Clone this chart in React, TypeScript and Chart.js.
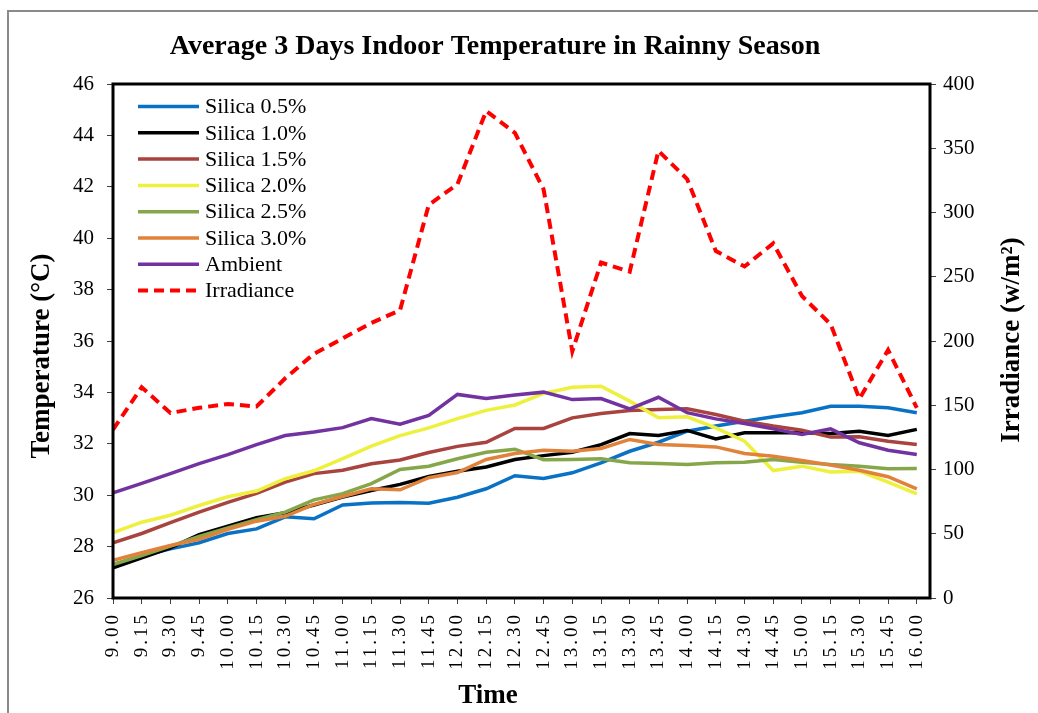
import React, { useEffect, useRef } from "react";
import { Chart, registerables } from "chart.js";

Chart.register(...registerables);

const timeLabels = [
  "9.00", "9.15", "9.30", "9.45", "10.00", "10.15", "10.30", "10.45", "11.00", "11.15",
  "11.30", "11.45", "12.00", "12.15", "12.30", "12.45", "13.00", "13.15", "13.30", "13.45",
  "14.00", "14.15", "14.30", "14.45", "15.00", "15.15", "15.30", "15.45", "16.00",
];

const silica05 = [
  27.30, 27.63, 27.91, 28.15, 28.51, 28.69, 29.16, 29.08, 29.62, 29.70,
  29.72, 29.69, 29.92, 30.25, 30.76, 30.65, 30.87, 31.26, 31.71, 32.06,
  32.49, 32.69, 32.88, 33.05, 33.21, 33.46, 33.46, 33.40, 33.21,
];
const silica10 = [
  27.17, 27.56, 27.95, 28.47, 28.79, 29.12, 29.32, 29.62, 29.93, 30.18,
  30.42, 30.73, 30.93, 31.10, 31.39, 31.54, 31.67, 31.97, 32.40, 32.32,
  32.52, 32.19, 32.43, 32.43, 32.43, 32.40, 32.49, 32.32, 32.56,
];
const silica15 = [
  28.15, 28.51, 28.93, 29.34, 29.72, 30.07, 30.51, 30.84, 30.97, 31.22,
  31.37, 31.66, 31.90, 32.06, 32.60, 32.60, 33.01, 33.18, 33.30, 33.33,
  33.36, 33.14, 32.88, 32.69, 32.53, 32.26, 32.27, 32.10, 31.97,
];
const silica20 = [
  28.54, 28.95, 29.22, 29.60, 29.94, 30.16, 30.64, 30.95, 31.42, 31.91,
  32.32, 32.62, 32.98, 33.30, 33.51, 33.96, 34.20, 34.24, 33.66, 33.01,
  33.05, 32.62, 32.10, 30.96, 31.13, 30.90, 30.93, 30.51, 30.05,
];
const silica25 = [
  27.30, 27.65, 28.02, 28.40, 28.73, 29.05, 29.34, 29.82, 30.06, 30.45,
  31.00, 31.13, 31.42, 31.67, 31.79, 31.38, 31.39, 31.42, 31.26, 31.23,
  31.19, 31.26, 31.28, 31.39, 31.28, 31.19, 31.13, 31.03, 31.04,
];
const silica30 = [
  27.47, 27.76, 28.04, 28.28, 28.67, 28.99, 29.18, 29.64, 29.95, 30.25,
  30.21, 30.68, 30.88, 31.39, 31.62, 31.75, 31.71, 31.82, 32.17, 31.97,
  31.93, 31.88, 31.62, 31.52, 31.35, 31.17, 30.97, 30.72, 30.25,
];
const ambient = [
  30.09, 30.46, 30.84, 31.23, 31.58, 31.97, 32.32, 32.46, 32.63, 32.98,
  32.76, 33.10, 33.92, 33.76, 33.90, 34.01, 33.72, 33.76, 33.36, 33.81,
  33.21, 32.97, 32.79, 32.58, 32.36, 32.58, 32.04, 31.75, 31.58,
];
const irradiance = [
  131, 164, 144, 148, 151, 149, 171, 190, 202, 214,
  224, 306, 322, 379, 362, 318, 192, 261, 254, 348,
  326, 270, 258, 276, 235, 213, 155, 193, 148,
];

const seriesNames = [
  "Silica 0.5%", "Silica 1.0%", "Silica 1.5%", "Silica 2.0%",
  "Silica 2.5%", "Silica 3.0%", "Ambient", "Irradiance",
];
const seriesValues = [silica05, silica10, silica15, silica20, silica25, silica30, ambient, irradiance];
const seriesColors = [
  "#0A72C4", "#000000", "#A8433F", "#EEF03E", "#86A64A", "#E0823A", "#7232A0", "#FF0000",
];

const tempTicks = [26, 28, 30, 32, 34, 36, 38, 40, 42, 44, 46];
const irrTicks = [0, 50, 100, 150, 200, 250, 300, 350, 400];

const SERIF = "'Liberation Serif', 'Times New Roman', serif";

const overlayPlugin = {
  id: "overlay",
  beforeDraw(chart: any) {
    const ctx = chart.ctx;
    ctx.save();
    ctx.fillStyle = "#ffffff";
    ctx.fillRect(0, 0, chart.width, chart.height);
    ctx.strokeStyle = "#8a8a8a";
    ctx.lineWidth = 2;
    ctx.beginPath();
    ctx.moveTo(8, chart.height + 5);
    ctx.lineTo(8, 11);
    ctx.lineTo(chart.width + 5, 11);
    ctx.stroke();
    ctx.restore();
  },
  afterDraw(chart: any) {
    const ctx = chart.ctx;
    const a = chart.chartArea;
    ctx.save();
    // plot frame
    ctx.strokeStyle = "#000000";
    ctx.lineWidth = 3;
    ctx.strokeRect(a.left, a.top, a.right - a.left, a.bottom - a.top);

    // title
    ctx.fillStyle = "#000000";
    ctx.font = `bold 28px ${SERIF}`;
    ctx.textAlign = "center";
    ctx.textBaseline = "middle";
    ctx.fillText("Average 3 Days Indoor Temperature in Rainny Season", 495, 47);

    // x title
    ctx.font = `bold 27px ${SERIF}`;
    ctx.fillText("Time", 488, 696);

    // y titles
    ctx.save();
    ctx.translate(42, 356);
    ctx.rotate(-Math.PI / 2);
    ctx.fillText("Temperature (\u00B0C)", 0, 0);
    ctx.restore();

    ctx.save();
    ctx.translate(1012, 340);
    ctx.rotate(-Math.PI / 2);
    ctx.fillText("Irradiance (w/m\u00B2)", 0, 0);
    ctx.restore();

    // x tick labels
    const xs = chart.scales.x;
    ctx.font = `19px ${SERIF}`;
    (ctx as any).letterSpacing = "3px";
    ctx.textAlign = "right";
    ctx.textBaseline = "middle";
    timeLabels.forEach((lab, i) => {
      const x = xs.getPixelForValue(i);
      ctx.save();
      ctx.translate(x, 612);
      ctx.rotate(-Math.PI / 2);
      ctx.fillText(lab, 0, 0);
      ctx.restore();
    });
    (ctx as any).letterSpacing = "0px";

    // legend
    ctx.font = `22px ${SERIF}`;
    ctx.textAlign = "left";
    ctx.textBaseline = "middle";
    chart.data.datasets.forEach((ds: any, i: number) => {
      const y = 106.5 + i * 26.3;
      ctx.save();
      ctx.strokeStyle = ds.borderColor;
      ctx.lineWidth = ds.borderWidth;
      ctx.setLineDash(ds.borderDash || []);
      ctx.lineCap = "butt";
      ctx.beginPath();
      ctx.moveTo(138, y);
      ctx.lineTo(199, y);
      ctx.stroke();
      ctx.restore();
      ctx.fillStyle = "#000000";
      ctx.fillText(ds.label, 205, y + 1);
    });
    ctx.restore();
  },
};

export default function App() {
  const canvasRef = useRef<HTMLCanvasElement | null>(null);

  useEffect(() => {
    const canvas = canvasRef.current;
    if (!canvas) return;

    const datasets = seriesNames.map((name, i) => {
      const isIrr = i === seriesNames.length - 1;
      return {
        label: name,
        data: seriesValues[i].map((v, j) => ({ x: j, y: v })),
        borderColor: seriesColors[i],
        backgroundColor: seriesColors[i],
        borderWidth: isIrr ? 4 : 3.5,
        borderDash: isIrr ? [10, 6] : [],
        pointRadius: 0,
        tension: 0,
        fill: false,
        yAxisID: isIrr ? "y1" : "y",
        xAxisID: "x",
        order: seriesNames.length - i,
      };
    });

    const chart = new Chart(canvas, {
      type: "line",
      data: { datasets },
      plugins: [overlayPlugin],
      options: {
        responsive: false,
        animation: false,
        devicePixelRatio: 1,
        layout: { padding: { top: 84, left: 0, right: 0, bottom: 0 } },
        plugins: {
          legend: { display: false },
          title: { display: false },
          tooltip: { enabled: false },
        },
        scales: {
          x: {
            type: "linear",
            position: "bottom",
            min: 0,
            max: 28.46,
            offset: false,
            afterBuildTicks: (s: any) => {
              s.ticks = timeLabels.map((_, i) => ({ value: i }));
            },
            afterFit: (s: any) => {
              s.height = 115;
            },
            ticks: { display: false },
            grid: {
              drawOnChartArea: false,
              drawTicks: true,
              tickLength: 6,
              color: "#404040",
              lineWidth: 1,
            },
            border: { display: false },
          },
          y: {
            type: "linear",
            position: "left",
            min: 26,
            max: 46,
            afterBuildTicks: (s: any) => {
              s.ticks = tempTicks.map((v) => ({ value: v }));
            },
            afterFit: (s: any) => {
              s.width = 113;
            },
            ticks: {
              font: { family: SERIF, size: 21 },
              color: "#000000",
              padding: 13,
            },
            grid: {
              drawOnChartArea: false,
              drawTicks: true,
              tickLength: 6,
              color: "#404040",
            },
            border: { display: false },
          },
          y1: {
            type: "linear",
            position: "right",
            min: 0,
            max: 400,
            afterBuildTicks: (s: any) => {
              s.ticks = irrTicks.map((v) => ({ value: v }));
            },
            afterFit: (s: any) => {
              s.width = 108;
            },
            ticks: {
              font: { family: SERIF, size: 21 },
              color: "#000000",
              padding: 7,
            },
            grid: {
              drawOnChartArea: false,
              drawTicks: true,
              tickLength: 6,
              color: "#404040",
            },
            border: { display: false },
          },
        },
      } as any,
    });

    return () => {
      chart.destroy();
    };
  }, []);

  return (
    <div style={{ position: "absolute", left: 0, top: 0, width: 1038, height: 713, background: "#fff" }}>
      <canvas ref={canvasRef} width={1038} height={713} style={{ display: "block", width: 1038, height: 713 }} />
    </div>
  );
}
